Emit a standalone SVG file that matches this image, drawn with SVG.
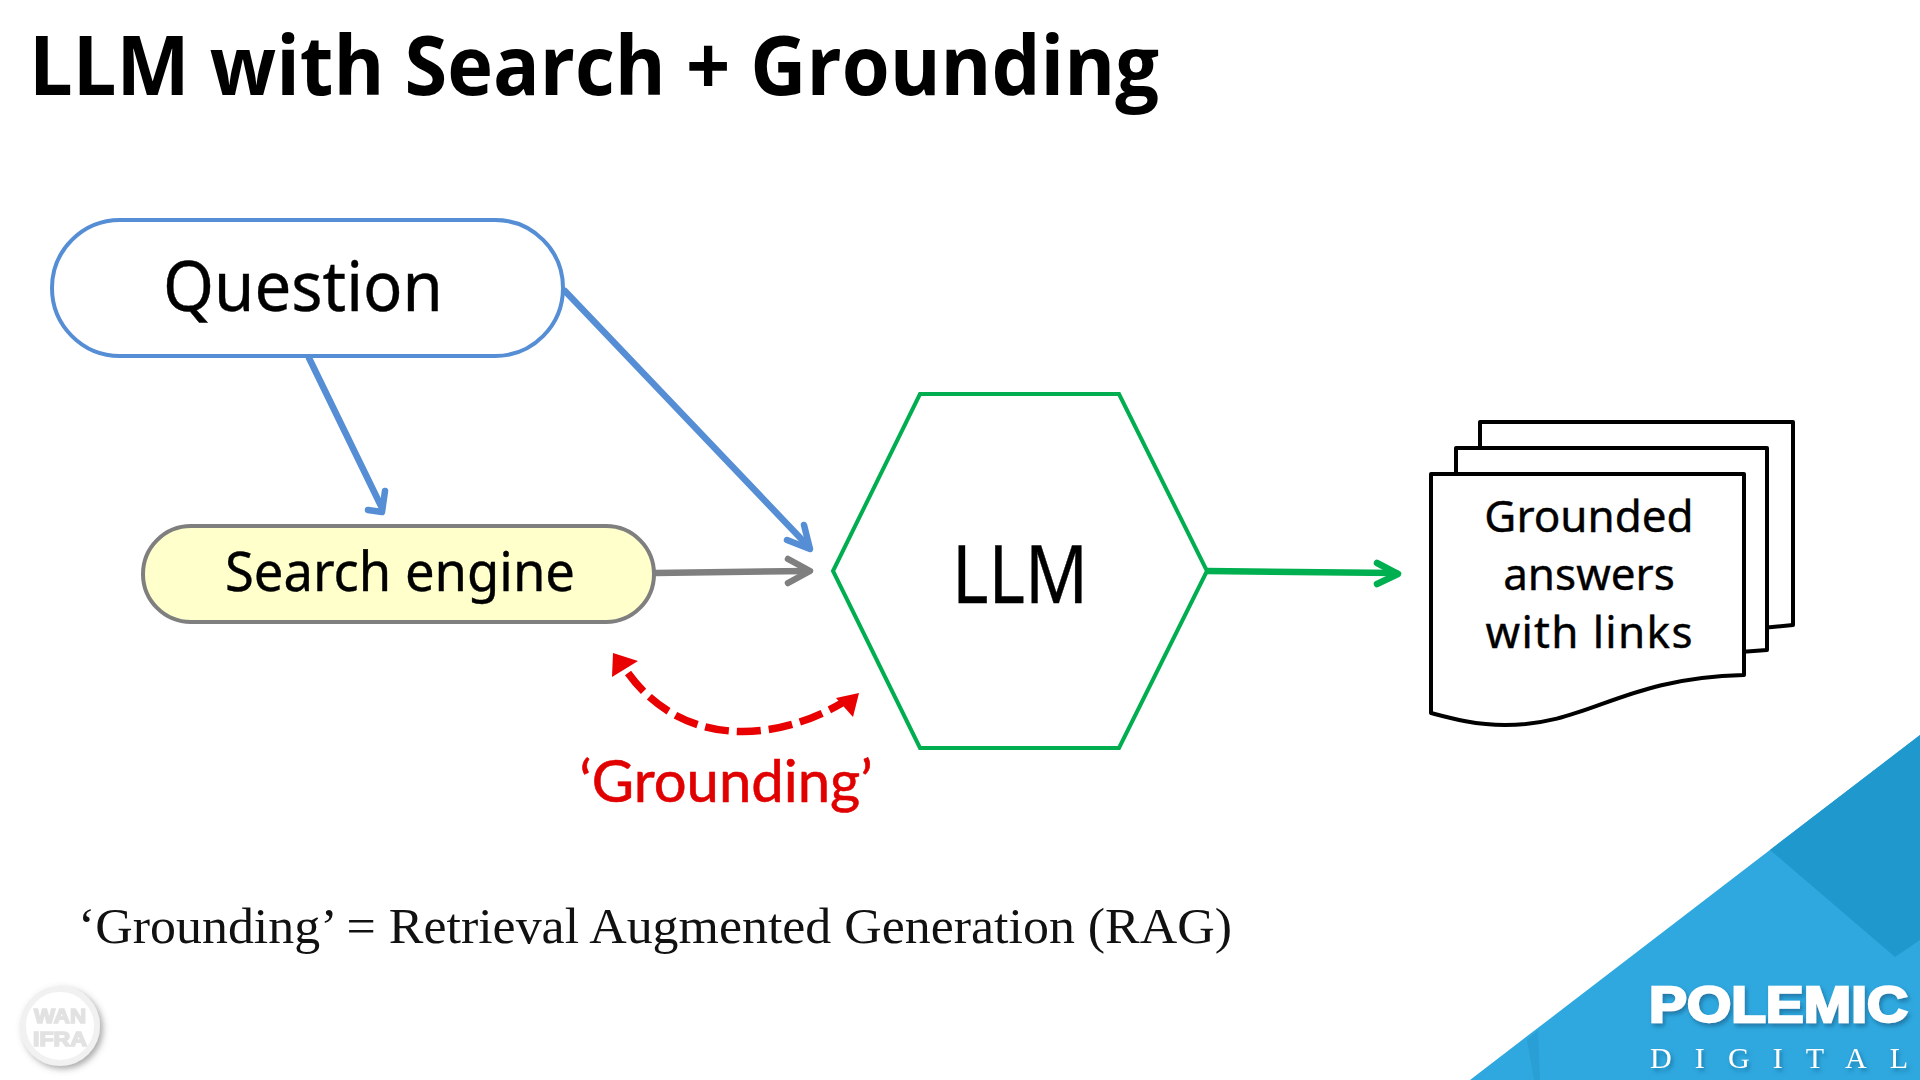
<svg xmlns="http://www.w3.org/2000/svg" width="1920" height="1080" viewBox="0 0 1920 1080">
<defs>
<style>
.body{font-family:"Noto Sans","DejaVu Sans",sans-serif;fill:#000;text-anchor:middle;stroke:#000;stroke-width:.4}
.doc{fill:#fff;stroke:#000;stroke-width:4;stroke-linejoin:round}
.conn{fill:none;stroke-width:6.5;stroke-linecap:round;stroke-linejoin:round}
</style>
<filter id="sh" x="-10%" y="-20%" width="120%" height="150%"><feDropShadow dx="2" dy="3" stdDeviation="2" flood-color="#0b4f78" flood-opacity="0.55"/></filter>
<filter id="sg" x="-30%" y="-30%" width="160%" height="160%"><feDropShadow dx="3" dy="3" stdDeviation="3" flood-color="#555" flood-opacity="0.5"/></filter>
</defs>
<rect width="1920" height="1080" fill="#fff"/>
<g id="corner">
<polygon points="1920,735 1470,1080 1920,1080" fill="#2fa8df"/>
<polygon points="1920,735 1770,850 1895,957 1920,940" fill="#1f98cd"/>
<polygon points="1527,1040 1538,1030 1540,1080 1534,1080" fill="#2a9fd5"/>
<text x="1649" y="1022" font-family="Liberation Sans,sans-serif" font-weight="700" font-size="50" fill="#fff" stroke="#fff" stroke-width="2.5" textLength="259" lengthAdjust="spacingAndGlyphs" filter="url(#sh)">POLEMIC</text>
<text x="1650" y="1068" font-family="Liberation Serif,serif" font-size="30" fill="#fff" textLength="258" filter="url(#sh)">DIGITAL</text>
</g>
<g id="logo" filter="url(#sg)">
<circle cx="60" cy="1026" r="37" fill="#fff" stroke="#f1f1f1" stroke-width="6"/>
<text x="60" y="1023" text-anchor="middle" font-family="Liberation Sans,sans-serif" font-weight="700" font-size="20" fill="#e2e2e2" stroke="#e2e2e2" stroke-width="1.5" textLength="52" lengthAdjust="spacingAndGlyphs">WAN</text>
<text x="60" y="1046" text-anchor="middle" font-family="Liberation Sans,sans-serif" font-weight="700" font-size="20" fill="#e2e2e2" stroke="#e2e2e2" stroke-width="1.5" textLength="54" lengthAdjust="spacingAndGlyphs">IFRA</text>
</g>
<text id="title" x="29" y="95" font-family="Open Sans,sans-serif" font-weight="700" font-size="82" fill="#000" textLength="1130" lengthAdjust="spacingAndGlyphs">LLM with Search + Grounding</text>
<g id="connectors">
<g class="conn" stroke="#558ed5">
<path d="M309 358L382 508"/><path d="M368 510L382 512L385 491"/>
<path d="M565 291L808 546"/><path d="M787 540L810 549L804 525"/>
</g>
<g class="conn" stroke="#7f7f7f">
<path d="M655 573L808 571"/><path d="M788 559L810 571L788 583"/>
</g>
<g class="conn" stroke="#00b050">
<path d="M1207 571L1396 573"/><path d="M1377 563L1398 574L1377 584"/>
</g>
<path d="M628 673C680 745 770 745 842 703" fill="none" stroke="#e90000" stroke-width="7.5" stroke-dasharray="24 8"/>
<polygon points="613,653 638,661 612,677" fill="#e90000"/>
<polygon points="859,693 853,717 836,698" fill="#e90000"/>
</g>
<g id="question">
<rect x="52" y="220" width="511" height="136" rx="68" fill="#fff" stroke="#558ed5" stroke-width="4"/>
<text class="body" x="303" y="311" font-size="70" textLength="280" lengthAdjust="spacingAndGlyphs">Question</text>
</g>
<g id="search-engine">
<rect x="143" y="526" width="511" height="96" rx="48" fill="#ffffcc" stroke="#7f7f7f" stroke-width="4"/>
<text class="body" x="400" y="591" font-size="54" textLength="350" lengthAdjust="spacingAndGlyphs">Search engine</text>
</g>
<g id="llm">
<polygon points="833,571 920,394 1119,394 1207,571 1119,748 920,748" fill="#fff" stroke="#00ae50" stroke-width="4"/>
<text class="body" x="1020" y="603" font-size="80" textLength="136" lengthAdjust="spacingAndGlyphs">LLM</text>
</g>
<g id="documents">
<path class="doc" d="M1480 422H1793V625L1720 632H1480Z"/>
<path class="doc" d="M1456 448H1767V650L1700 655H1456Z"/>
<path class="doc" d="M1431 474H1744V675C1620 678 1590 725 1505 725C1475 725 1450 718 1431 713Z"/>
<text class="body" x="1589" y="532" font-size="44">Grounded</text>
<text class="body" x="1589" y="590" font-size="44">answers</text>
<text class="body" x="1589" y="648" font-size="44" textLength="207">with links</text>
</g>
<text id="grounding-label" x="726" y="802" text-anchor="middle" font-family="Lato,sans-serif" font-size="58" fill="#e10000" stroke="#e10000" stroke-width=".6">‘Grounding’</text>
<text id="note" x="78" y="943" font-family="Liberation Serif,serif" font-size="50" fill="#111" textLength="1154" lengthAdjust="spacingAndGlyphs">‘Grounding’ = Retrieval Augmented Generation (RAG)</text>
</svg>
